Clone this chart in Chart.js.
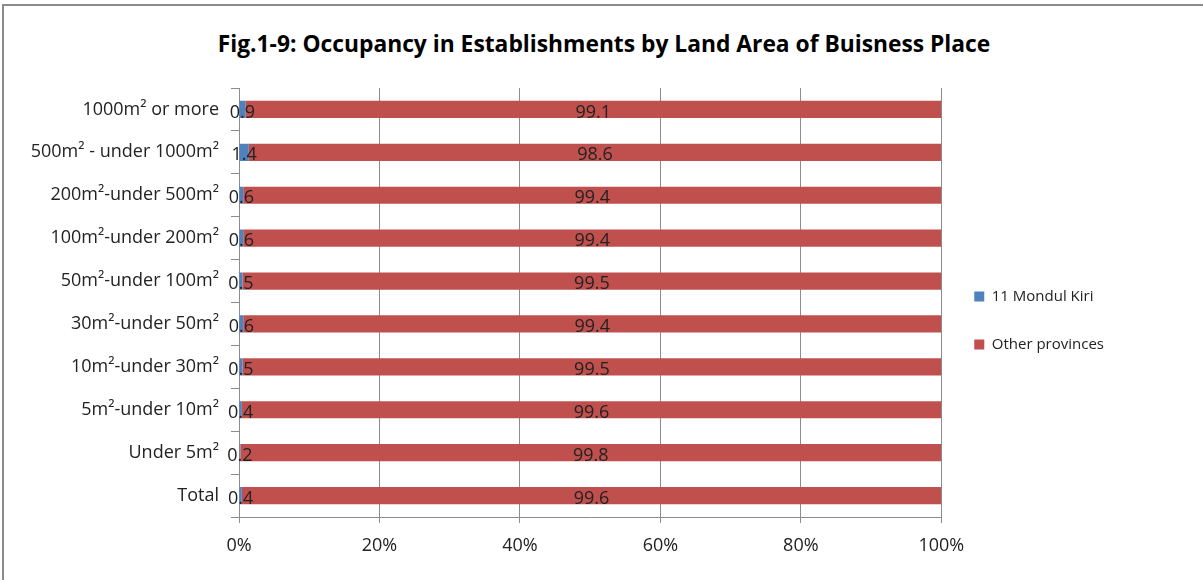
<!DOCTYPE html>
<html>
<head>
<meta charset="utf-8">
<script src="https://cdn.jsdelivr.net/npm/chart.js@4/dist/chart.umd.min.js"></script>
<style>
  body { margin: 0; background: #fff; }
  #frame {
    position: absolute; left: 2px; top: 4px; width: 1201px; height: 576px;
    border-top: 2px solid #8a8a8a; border-left: 2px solid #8a8a8a;
  }
  #wrap { position: absolute; left: 0; top: 0; width: 1203px; height: 580px; }
  #title {
    position: absolute; left: 0; width: 1208px; top: 28px;
    text-align: center; font: bold 22.8px "Open Sans", sans-serif; color: #000;
  }
</style>
</head>
<body>
<div id="frame"></div>
<div id="title">Fig.1-9: Occupancy in Establishments by Land Area of Buisness Place</div>
<div id="wrap"><canvas id="chart" width="1203" height="580"></canvas></div>
<script>
const categories = [
  "1000m\u00b2 or more",
  "500m\u00b2 - under 1000m\u00b2",
  "200m\u00b2-under 500m\u00b2",
  "100m\u00b2-under 200m\u00b2",
  "50m\u00b2-under 100m\u00b2",
  "30m\u00b2-under 50m\u00b2",
  "10m\u00b2-under 30m\u00b2",
  "5m\u00b2-under 10m\u00b2",
  "Under 5m\u00b2",
  "Total"
];
const mondulKiri = [0.9, 1.4, 0.6, 0.6, 0.5, 0.6, 0.5, 0.4, 0.2, 0.4];
const otherProvinces = [99.1, 98.6, 99.4, 99.4, 99.5, 99.4, 99.5, 99.6, 99.8, 99.6];
const xTicks = [0, 20, 40, 60, 80, 100];

const FONT = "'Open Sans', sans-serif";

// value labels drawn at the centre of each bar segment
const barLabels = {
  id: "barLabels",
  afterDatasetsDraw(chart) {
    const ctx = chart.ctx;
    ctx.save();
    ctx.font = "18px " + FONT;
    ctx.fillStyle = "#222";
    ctx.textAlign = "center";
    ctx.textBaseline = "middle";
    chart.data.datasets.forEach((ds, i) => {
      chart.getDatasetMeta(i).data.forEach((bar, j) => {
        const v = ds.data[j];
        const x = (bar.x + bar.base) / 2;
        ctx.fillText(v.toFixed(1), x, bar.y + 3);
      });
    });
    ctx.restore();
  }
};

new Chart(document.getElementById("chart"), {
  type: "bar",
  data: {
    labels: categories,
    datasets: [
      { label: "11 Mondul Kiri", data: mondulKiri, backgroundColor: "#4F81BD" },
      { label: "Other provinces", data: otherProvinces, backgroundColor: "#C0504D" }
    ]
  },
  plugins: [barLabels],
  options: {
    indexAxis: "y",
    responsive: false,
    animation: false,
    barPercentage: 0.4,
    categoryPercentage: 1,
    layout: { padding: { left: 4, right: 89, top: 88, bottom: 8 } },
    scales: {
      x: {
        stacked: true,
        min: 0,
        max: 100,
        afterBuildTicks(scale) { scale.ticks = xTicks.map(v => ({ value: v })); },
        afterFit(scale) { scale.height = 55; },
        ticks: {
          callback: v => v + "%",
          font: { family: FONT, size: 18 },
          color: "#222",
          padding: 12
        },
        grid: { color: "#8c8c8c", tickLength: 6 },
        border: { color: "#8c8c8c" }
      },
      y: {
        stacked: true,
        afterFit(scale) { scale.width = 235; },
        ticks: {
          font: { family: FONT, size: 18 },
          color: "#222",
          padding: 12
        },
        grid: { drawOnChartArea: false, color: "#8c8c8c", tickLength: 8 },
        border: { color: "#8c8c8c" }
      }
    },
    plugins: {
      title: { display: false },
      legend: {
        position: "right",
        fullSize: false,
        title: { display: true, text: " ", font: { size: 10 }, padding: 12 },
        labels: {
          boxWidth: 10,
          boxHeight: 10,
          padding: 33,
          font: { family: FONT, size: 15 },
          color: "#222"
        }
      },
      tooltip: { enabled: false }
    }
  }
});
</script>
</body>
</html>
